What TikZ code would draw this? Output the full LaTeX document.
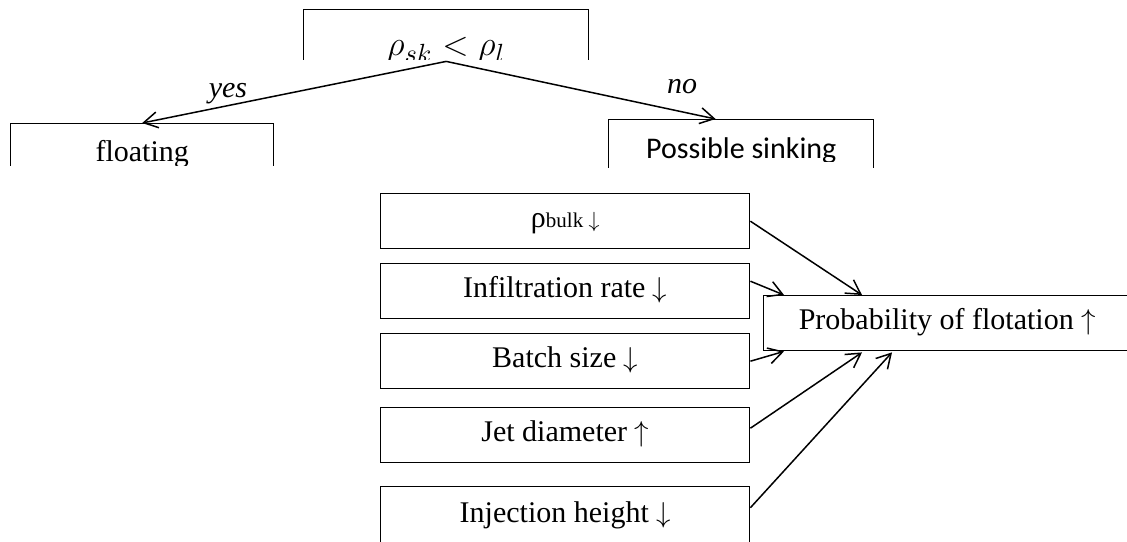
\documentclass[tikz,border=0pt]{standalone}
\usepackage{fontspec}
\usepackage{graphicx}
\setmainfont{Liberation Serif}
\newfontfamily\calibrifont{Carlito}
\usetikzlibrary{arrows.meta,calc}
\newcommand\myfs{\fontsize{15}{18}\selectfont}
\newcommand\dn{ $\downarrow$}
\newcommand\upar{ $\uparrow$}
\begin{document}
\begin{tikzpicture}[x=0.5pt,y=-0.5pt,
  box/.style={draw, line width=0.7pt, inner sep=0pt, anchor=north west,
    font=\myfs, text height=0.8em, text depth=0.2em},
  lbox/.style={box, minimum width=184.5pt, minimum height=27.5pt},
  arr/.style={line width=0.75pt, -{Straight Barb[length=7pt,width=8pt,line width=0.75pt]}},
  lab/.style={font=\myfs\itshape, anchor=base, inner sep=0pt}]
\useasboundingbox (0,0) rectangle (1127,541);
\clip (0,0) rectangle (1127,541);

% top condition box (bottom clipped)
\begin{scope}
  \clip (0,0) rectangle (1127,59.2);
  \node[box, minimum width=142.5pt, minimum height=25.5pt, text height=20.5pt, text depth=0pt]
    (top) at (303,9) {\scalebox{1.2}{$\rho_{sk} < \rho_{l}$}};
\end{scope}

% floating (bottom clipped)
\begin{scope}
  \clip (0,0) rectangle (1127,165);
  \node[box, minimum width=131.5pt, minimum height=32pt] (float) at (10,123) {floating};
\end{scope}

% possible sinking (bottom clipped)
\begin{scope}
  \clip (0,0) rectangle (1127,167);
  \node[box, minimum width=132.5pt, minimum height=33pt, font=\calibrifont\myfs] (sink) at (608,119) {Possible sinking};
  \fill[white] ($(sink.west |- 0,161.5)+(1,0)$) rectangle ($(sink.east |- 0,170)+(-1,0)$);
\end{scope}

\draw[arr] (top.south) -- (float.north);
\draw[arr] (top.south) -- ($(sink.north west)!0.404!(sink.north east)$);
\node[lab] (yes) at (228,97) {yes};
\node[lab] (no) at (682,93) {no};

% factor boxes
\node[lbox] (rho) at (380,193) {ρ{\fontsize{10.5}{12}\selectfont bulk\dn}};
\node[lbox] (inf) at (380,263) {Infiltration rate\dn};
\node[lbox] (bat) at (380,333) {Batch size\dn};
\node[lbox] (jet) at (380,407) {Jet diameter\upar};
\node[lbox, minimum height=30pt] (inj) at (380,486) {Injection height\dn};

% result box (right side beyond edge)
\node[box, minimum width=183.5pt, minimum height=27.5pt] (prob) at (763,295) {Probability of flotation\upar};

\draw[arr] (rho.east) -- ($(prob.north west)+(99,0)$);
\draw[arr] ($(inf.east)+(0,-10)$) -- ($(prob.north west)+(21,0)$);
\draw[arr] (bat.east) -- ($(prob.south west)+(21,0)$);
\draw[arr] ($(jet.east)+(0,-7)$) -- ($(prob.south west)+(99,1)$);
\draw[arr] ($(inj.east)+(0,-9)$) -- ($(prob.south west)+(129,1)$);
\end{tikzpicture}
\end{document}
